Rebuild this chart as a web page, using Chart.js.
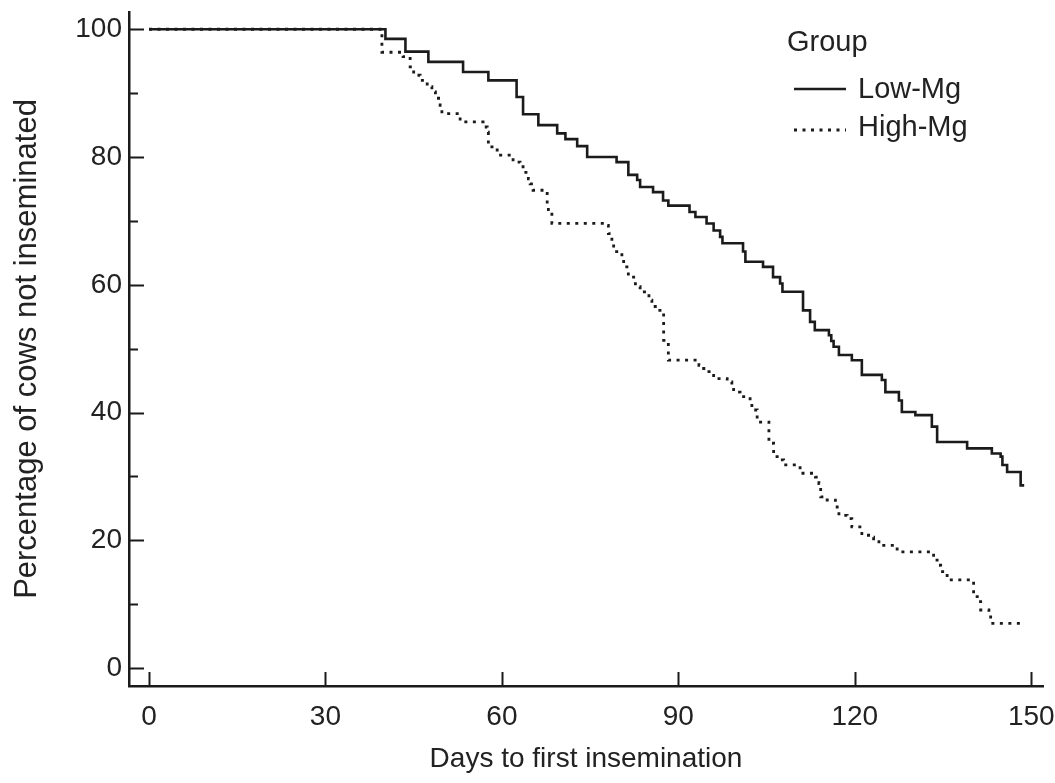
<!DOCTYPE html>
<html>
<head>
<meta charset="utf-8">
<script src="https://cdn.jsdelivr.net/npm/chart.js@4.4.1/dist/chart.umd.min.js"></script>
<style>
  body { margin: 0; background: #fff; }
</style>
</head>
<body>
<canvas id="km-chart" width="1055" height="783"></canvas>
<script>
// Kaplan-Meier style curves (day of drop, % remaining after it)
var lowDays = [0, 40.2, 43.6, 47.5, 53.4, 57.7, 62.5, 63.6, 66.2, 69.4, 70.8, 72.8, 74.5, 79.5, 81.5,
    83.0, 83.5, 85.7, 87.4, 88.3, 91.9, 92.9, 94.8, 96.0, 97.1, 97.5, 101.0, 101.4, 104.4, 106.1,
    107.3, 107.7, 111.2, 112.4, 113.2, 115.6, 116.0, 116.4, 117.3, 119.5, 121.2, 124.6, 125.2, 127.5,
    128.0, 130.3, 133.1, 134.0, 139.1, 143.3, 144.8, 145.1, 145.9, 148.2, 148.8];
var lowPct = [100, 98.5, 96.5, 94.9, 93.3, 92.0, 89.4, 86.7, 85.0, 83.7, 82.8, 81.7, 80.0, 79.2, 77.2,
    76.4, 75.3, 74.5, 73.2, 72.4, 71.4, 70.6, 69.6, 68.5, 67.5, 66.5, 65.2, 63.6, 62.8, 61.2,
    60.2, 58.9, 56.0, 54.2, 52.9, 52.1, 51.2, 50.3, 49.0, 48.2, 45.9, 45.1, 43.2, 41.9,
    40.1, 39.6, 37.8, 35.4, 34.4, 33.6, 33.1, 31.8, 30.7, 28.6, 28.6];

var highDays = [0, 39.6, 43.2, 44.4, 45.0, 46.1, 47.3, 48.1, 48.7, 49.5, 49.8, 52.9, 56.8, 57.5, 57.7,
    58.6, 59.2, 61.9, 63.1, 63.6, 64.5, 64.8, 65.3, 67.7, 67.9, 68.5, 77.6, 78.1, 78.7, 79.0,
    80.4, 80.7, 81.5, 82.7, 83.5, 85.0, 85.5, 86.6, 87.5, 88.3, 93.5, 94.3, 95.2, 96.0, 98.3,
    99.1, 99.4, 100.5, 102.2, 102.5, 103.4, 105.4, 106.2, 107.3, 107.9, 110.7, 113.3, 113.9, 114.2,
    115.3, 116.7, 117.0, 117.3, 118.7, 119.5, 121.2, 122.7, 123.2, 124.1, 127.2, 133.4, 134.0,
    134.6, 135.7, 140.2, 141.1, 141.4, 142.8, 143.1, 149.0];
var highPct = [100, 96.4, 95.7, 94.1, 92.8, 92.0, 91.0, 90.2, 89.2, 88.1, 86.8, 85.5, 84.7, 83.9, 81.6,
    81.1, 80.3, 79.2, 78.5, 77.6, 76.6, 75.8, 74.8, 72.7, 71.4, 69.6, 69.3, 68.0, 66.5, 65.2,
    64.1, 62.8, 61.2, 59.7, 58.9, 57.6, 56.6, 56.0, 51.3, 48.2, 47.4, 46.9, 46.4, 45.3, 44.8,
    44.0, 43.2, 42.5, 41.7, 40.4, 38.5, 35.2, 33.1, 32.6, 31.8, 30.5, 29.9, 28.9, 26.8,
    26.3, 26.0, 25.2, 23.9, 23.4, 22.1, 20.8, 20.5, 19.8, 19.2, 18.2, 16.9, 16.1,
    15.1, 13.8, 11.2, 10.4, 9.1, 8.3, 7.0, 7.0];

var groups = ['Low-Mg', 'High-Mg'];
var xTicks = [0, 30, 60, 90, 120, 150];
var yTicks = [0, 20, 40, 60, 80, 100];
var yMinorTicks = [10, 30, 50, 70, 90];

var ink = '#1b1b1b';
Chart.defaults.font.family = "'Liberation Sans', Arial, sans-serif";
Chart.defaults.color = '#222';

function toPoints(days, pct) {
    return days.map(function(d, i) { return {x: d, y: pct[i]}; });
}

// tick marks pointing into the plot, like the original
var innerTicks = {
    id: 'innerTicks',
    afterDatasetsDraw: function(chart) {
        var c = chart.ctx, area = chart.chartArea;
        var xs = chart.scales.x, ys = chart.scales.y;
        c.save();
        c.strokeStyle = ink;
        c.lineWidth = 2;
        c.beginPath();
        yTicks.concat(yMinorTicks).forEach(function(v) {
            var py = Math.round(ys.getPixelForValue(v)) + 0.5;
            var len = v % 20 === 0 ? 15 : 9;
            c.moveTo(area.left, py);
            c.lineTo(area.left + len, py);
        });
        xTicks.forEach(function(v) {
            var px = Math.round(xs.getPixelForValue(v)) + 0.5;
            c.moveTo(px, area.bottom);
            c.lineTo(px, area.bottom - 14);
        });
        c.stroke();
        c.restore();
    }
};

var groupLegend = {
    id: 'groupLegend',
    afterDraw: function(chart) {
        var c = chart.ctx;
        c.save();
        c.fillStyle = '#222';
        c.font = "29px 'Liberation Sans', Arial, sans-serif";
        c.textBaseline = 'middle';
        c.fillText('Group', 787, 43);
        var rows = [89, 130];
        chart.data.datasets.forEach(function(ds, i) {
            c.strokeStyle = ds.borderColor;
            c.lineWidth = ds.borderWidth;
            c.setLineDash(ds.borderDash || []);
            c.beginPath();
            c.moveTo(794, rows[i]);
            c.lineTo(846, rows[i]);
            c.stroke();
            c.setLineDash([]);
            c.fillText(ds.label, 858, rows[i] + (i ? -2 : 1));
        });
        c.restore();
    }
};

var ctx = document.getElementById('km-chart').getContext('2d');
var chart = new Chart(ctx, {
    type: 'line',
    data: {
        datasets: [{
            label: groups[0],
            data: toPoints(lowDays, lowPct),
            stepped: true,
            borderColor: ink,
            borderWidth: 2.6,
            pointRadius: 0,
            fill: false,
            order: 0
        }, {
            label: groups[1],
            data: toPoints(highDays, highPct),
            stepped: true,
            borderColor: ink,
            borderWidth: 2.8,
            borderDash: [3, 5.5],
            pointRadius: 0,
            fill: false,
            order: 1
        }]
    },
    options: {
        responsive: false,
        animation: false,
        layout: { padding: { top: 12, right: 12, left: 0, bottom: 0 } },
        plugins: {
            legend: { display: false },
            tooltip: { enabled: false }
        },
        scales: {
            x: {
                type: 'linear',
                min: -3.4,
                max: 152,
                afterBuildTicks: function(s) { s.ticks = xTicks.map(function(v) { return {value: v}; }); },
                afterFit: function(s) { s.height = 97; s.paddingLeft = 0; s.paddingRight = 0; },
                ticks: { autoSkip: false, maxRotation: 0, font: { size: 28 }, padding: 14 },
                grid: { drawOnChartArea: false, drawTicks: false },
                border: { color: ink, width: 2.5 },
                title: {
                    display: true,
                    text: 'Days to first insemination',
                    font: { size: 28 },
                    padding: { top: 0, bottom: 7 }
                }
            },
            y: {
                min: -2.8,
                max: 102.7,
                afterBuildTicks: function(s) { s.ticks = yTicks.map(function(v) { return {value: v}; }); },
                afterFit: function(s) { s.width = 129; s.paddingTop = 0; s.paddingBottom = 0; },
                ticks: { autoSkip: false, font: { size: 28 }, padding: 7 },
                grid: { drawOnChartArea: false, drawTicks: false },
                border: { color: ink, width: 2.5 },
                title: {
                    display: true,
                    text: 'Percentage of cows not inseminated',
                    font: { size: 31 },
                    padding: { top: 9, bottom: 0 }
                }
            }
        }
    },
    plugins: [innerTicks, groupLegend]
});
</script>
</body>
</html>
